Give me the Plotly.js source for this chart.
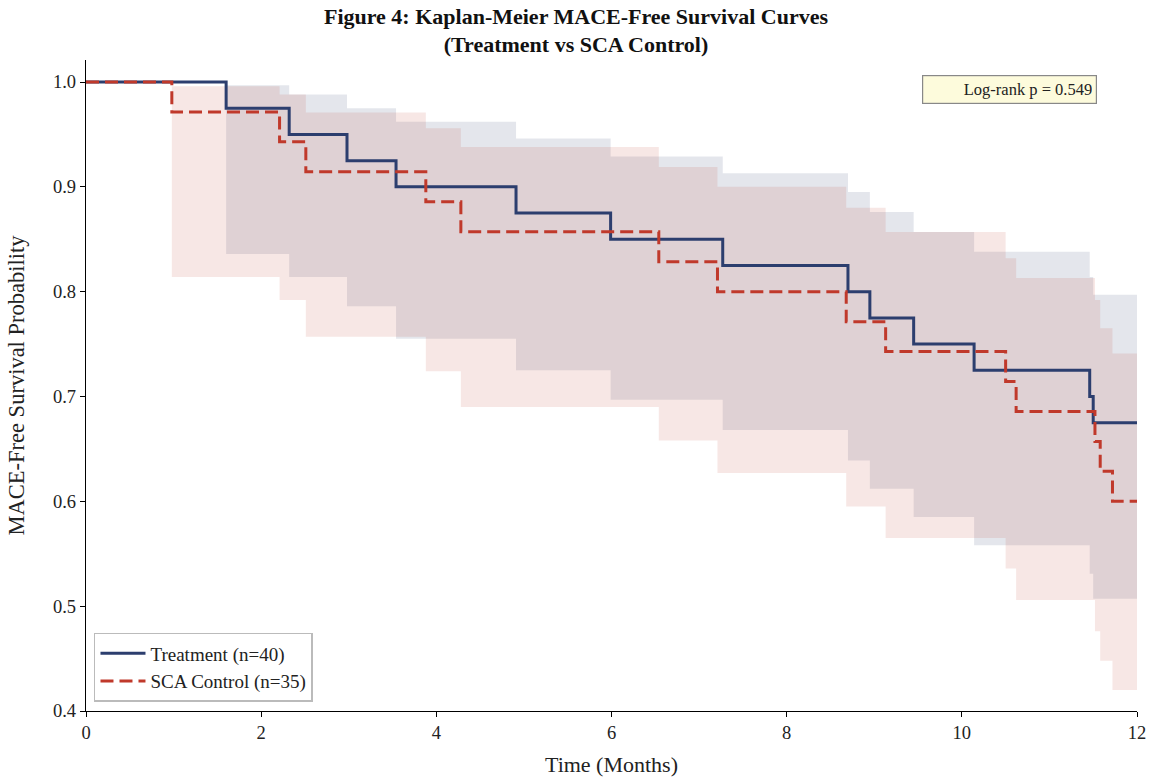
<!DOCTYPE html>
<html>
<head>
<meta charset="utf-8">
<script src="https://cdn.plot.ly/plotly-3.0.1.min.js"></script>
<style>html,body{margin:0;padding:0;background:#fff;}#chart{width:1152px;height:778px;}</style>
</head>
<body>
<div id="chart"></div>
<script>
// Treatment (n=40)
const treatTime  = [0, 1.60, 2.32, 2.98, 3.54, 4.91, 5.99, 7.27, 8.70, 8.95, 9.45, 10.14, 11.46, 11.50, 12];
const treatSurv  = [1, 0.975, 0.95, 0.925, 0.9, 0.875, 0.85, 0.825, 0.8, 0.775, 0.75, 0.725, 0.7, 0.675, 0.675];
const treatUpper = [1, 0.997, 0.988, 0.975, 0.962, 0.946, 0.929, 0.913, 0.895, 0.876, 0.857, 0.838, 0.814, 0.797, 0.797];
const treatLower = [1, 0.836, 0.814, 0.786, 0.755, 0.725, 0.697, 0.668, 0.639, 0.612, 0.585, 0.558, 0.531, 0.507, 0.507];

// SCA Control (n=35)
const ctrlTime  = [0, 0.98, 2.21, 2.51, 3.88, 4.28, 6.54, 7.21, 8.68, 9.13, 10.50, 10.62, 11.52, 11.58, 11.72, 12];
const ctrlSurv  = [1, 0.9714, 0.9429, 0.9143, 0.8857, 0.8571, 0.8286, 0.8, 0.7714, 0.7429, 0.7143, 0.6857, 0.6571, 0.6286, 0.6, 0.6];
const ctrlUpper = [1, 0.996, 0.988, 0.971, 0.956, 0.938, 0.919, 0.900, 0.880, 0.857, 0.832, 0.813, 0.792, 0.765, 0.741, 0.741];
const ctrlLower = [1, 0.814, 0.792, 0.757, 0.724, 0.690, 0.658, 0.627, 0.595, 0.565, 0.536, 0.506, 0.476, 0.448, 0.420, 0.420];

const xTicks = [0, 2, 4, 6, 8, 10, 12];
const yTicks = [0.4, 0.5, 0.6, 0.7, 0.8, 0.9, 1.0];

const seriesNames = ['Treatment (n=40)', 'SCA Control (n=35)'];
const pValueText = 'Log-rank p = 0.549';

const navy = '#2c3e6e';
const red = '#c0392b';
const font = 'Liberation Serif, Times New Roman, serif';

const traces = [
  {x: treatTime, y: treatLower, mode: 'lines', line: {shape: 'hv', width: 0}, showlegend: false, hoverinfo: 'skip'},
  {x: treatTime, y: treatUpper, mode: 'lines', line: {shape: 'hv', width: 0}, fill: 'tonexty', fillcolor: 'rgba(44,62,110,0.13)', showlegend: false, hoverinfo: 'skip'},
  {x: ctrlTime, y: ctrlLower, mode: 'lines', line: {shape: 'hv', width: 0}, showlegend: false, hoverinfo: 'skip'},
  {x: ctrlTime, y: ctrlUpper, mode: 'lines', line: {shape: 'hv', width: 0}, fill: 'tonexty', fillcolor: 'rgba(192,57,43,0.12)', showlegend: false, hoverinfo: 'skip'},
  {x: treatTime, y: treatSurv, mode: 'lines', name: seriesNames[0], line: {shape: 'hv', width: 3, color: navy}},
  {x: ctrlTime, y: ctrlSurv, mode: 'lines', name: seriesNames[1], line: {shape: 'hv', width: 3, color: red, dash: '13px,6px'}}
];

const layout = {
  width: 1152, height: 778,
  margin: {l: 86, r: 15, t: 60, b: 67},
  paper_bgcolor: '#fff', plot_bgcolor: '#fff',
  font: {family: font, size: 18, color: '#222'},
  title: {
    text: '<b>Figure 4: Kaplan-Meier MACE-Free Survival Curves<br>(Treatment vs SCA Control)</b>',
    font: {family: font, size: 22, color: '#111'},
    x: 0.5, xref: 'container', yref: 'container', y: 0.9697, yanchor: 'middle'
  },
  xaxis: {
    range: [0, 12], tickvals: xTicks, ticktext: xTicks.map(String),
    showline: true, linecolor: '#000', linewidth: 1.2, ticks: 'outside', ticklen: 5, tickcolor: '#000',
    showgrid: false, zeroline: false, tickfont: {size: 18.5, family: font, color: '#222'},
    title: {text: 'Time (Months)', font: {size: 22, family: font, color: '#222'}, standoff: 14}
  },
  yaxis: {
    range: [0.4, 1.021], tickvals: yTicks, ticktext: yTicks.map(v => v.toFixed(1)),
    showline: true, linecolor: '#000', linewidth: 1.2, ticks: 'outside', ticklen: 5, tickcolor: '#000',
    showgrid: false, zeroline: false, tickfont: {size: 18.5, family: font, color: '#222'},
    title: {text: 'MACE-Free Survival Probability', font: {size: 22.5, family: font, color: '#222'}, standoff: 22}
  },
  legend: {
    x: 0.0076, y: 0.014, xanchor: 'left', yanchor: 'bottom', traceorder: 'normal',
    bgcolor: 'rgba(255,255,255,0.9)', bordercolor: '#bbb', borderwidth: 1.5,
    font: {size: 19, family: font, color: '#222'}, tracegroupgap: 0, itemwidth: 45,
    entrywidth: 245, entrywidthmode: 'pixels'
  },
  annotations: [{
    xref: 'paper', yref: 'paper', x: 0.962, y: 0.977, xanchor: 'right', yanchor: 'top',
    text: pValueText, showarrow: false, align: 'right', width: 165,
    font: {size: 16.5, family: font, color: '#222'},
    bgcolor: '#fdfbdc', bordercolor: '#888', borderwidth: 1.2, borderpad: 4
  }],
  showlegend: true
};

Plotly.newPlot('chart', traces, layout, {displayModeBar: false, staticPlot: true});
</script>
</body>
</html>
